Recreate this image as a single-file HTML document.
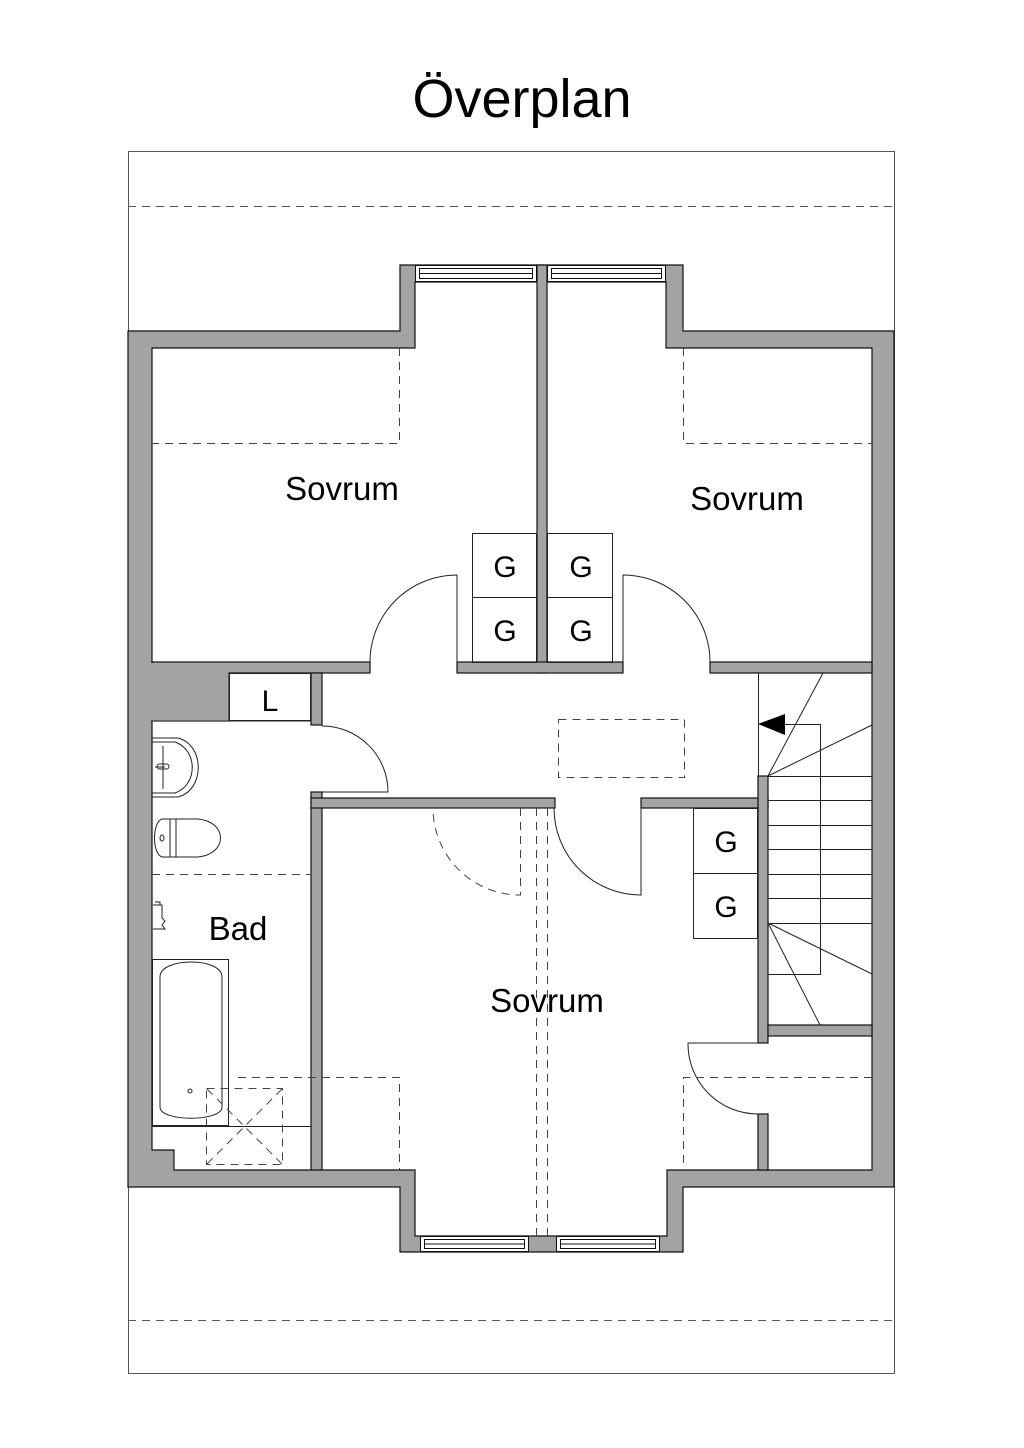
<!DOCTYPE html>
<html><head><meta charset="utf-8"><style>html,body{margin:0;padding:0;background:#fff}svg{display:block}</style></head>
<body>
<svg width="1024" height="1448" viewBox="0 0 1024 1448" xmlns="http://www.w3.org/2000/svg" font-family="Liberation Sans, sans-serif">
<rect width="1024" height="1448" fill="#fff"/>
<text x="522" y="117" font-size="54" text-anchor="middle" fill="#000">Överplan</text>
<rect x="128.5" y="151.5" width="766" height="1222" fill="none" stroke="#555" stroke-width="1"/>
<g stroke="#555" stroke-width="1" stroke-dasharray="8,6">
<line x1="128" y1="206.5" x2="895" y2="206.5"/>
<line x1="128" y1="1320.5" x2="895" y2="1320.5"/>
</g>
<g stroke="#111" stroke-width="1.2">
<polygon points="128,331 400,331 400,265 683,265 683,331 894,331 894,1187 683,1187 683,1252 400,1252 400,1187 128,1187" fill="#a3a3a3"/>
<polygon points="152,348 415,348 415,282 666,282 666,348 872,348 872,1170 667,1170 667,1236 415,1236 415,1170 174,1170 174,1150 152,1150" fill="#fff"/>
<g fill="#a3a3a3">
<rect x="537" y="265" width="10" height="408"/>
<rect x="152" y="662" width="218" height="11"/>
<rect x="457" y="662" width="166" height="11"/>
<rect x="710" y="662" width="162" height="11"/>
<rect x="152" y="673" width="77" height="48"/>
<rect x="311" y="673" width="11" height="52"/>
<rect x="311" y="792" width="11" height="378"/>
<rect x="311" y="798" width="244" height="10"/>
<rect x="641" y="798" width="127" height="10"/>
<rect x="758" y="776" width="10" height="267"/>
<rect x="758" y="1114" width="10" height="56"/>
<rect x="768" y="1025" width="104" height="11"/>
</g>
</g>
<g fill="#a3a3a3">
<rect x="538" y="663" width="8" height="9"/>
<rect x="312" y="799" width="9" height="8"/>
<rect x="759" y="799" width="8" height="8"/>
<rect x="759" y="1026" width="8" height="9"/>
<rect x="129" y="663" width="99.5" height="57.5"/>
</g>
<g stroke="#111" stroke-width="1" fill="#fff">
<rect x="415.5" y="265.5" width="121" height="16"/>
<rect x="419.5" y="268.5" width="113" height="10"/>
<line x1="419" y1="273.5" x2="532" y2="273.5"/>
<rect x="547.5" y="265.5" width="118" height="16"/>
<rect x="551.5" y="268.5" width="110" height="10"/>
<line x1="551" y1="273.5" x2="662" y2="273.5"/>
<rect x="420.5" y="1236.5" width="108" height="15"/>
<rect x="424.5" y="1239.5" width="100" height="9"/>
<line x1="424" y1="1244" x2="525" y2="1244"/>
<rect x="556.5" y="1236.5" width="103" height="15"/>
<rect x="560.5" y="1239.5" width="95" height="9"/>
<line x1="560" y1="1244" x2="656" y2="1244"/>
</g>
<g stroke="#222" stroke-width="1" fill="none">
<rect x="472.5" y="533.5" width="64" height="64"/>
<rect x="472.5" y="597.5" width="64" height="65"/>
<rect x="547.5" y="533.5" width="65" height="64"/>
<rect x="547.5" y="597.5" width="65" height="65"/>
<rect x="693.5" y="808.5" width="64" height="65"/>
<rect x="693.5" y="873.5" width="64" height="65"/>
<rect x="229.5" y="673.5" width="81" height="47" fill="#fff"/>
<line x1="152" y1="721" x2="311" y2="721"/>
<path d="M370,662 A87,87 0 0 1 457,575 L457,662"/>
<path d="M623,662 L623,575 A87,87 0 0 1 710,662"/>
<path d="M322,726 A66,66 0 0 1 388,792 L322,792"/>
<path d="M554,808 A87,87 0 0 0 641,895 L641,808"/>
<path d="M758,1043 L688,1043 A70,70 0 0 0 758,1114"/>
<line x1="758.5" y1="673" x2="758.5" y2="776"/>
<line x1="768" y1="776" x2="823" y2="673"/>
<line x1="768" y1="776" x2="872" y2="725"/>
<line x1="768" y1="776.5" x2="872" y2="776.5"/>
<line x1="768" y1="800.5" x2="872" y2="800.5"/>
<line x1="768" y1="825.5" x2="872" y2="825.5"/>
<line x1="768" y1="849.5" x2="872" y2="849.5"/>
<line x1="768" y1="874.5" x2="872" y2="874.5"/>
<line x1="768" y1="898.5" x2="872" y2="898.5"/>
<line x1="768" y1="923.5" x2="872" y2="923.5"/>
<line x1="768" y1="923" x2="872" y2="974"/>
<line x1="768" y1="923" x2="820" y2="1025"/>
<path d="M785,724.5 L820.5,724.5 L820.5,974.5 L768,974.5"/>
<path d="M152,738 L178,738 C205,745 205,790 178,797 L152,797"/>
<path d="M152,742 L175,742 C198,750 198,785 175,793 L152,793" />
<path d="M163,746 L163,789 M155,767 L165,767"/>
<rect x="157" y="764" width="12" height="5" rx="2.5"/>
<path d="M162,819 C152,822 152,854 162,857 L170,857 L170,819 Z"/>
<path d="M170,819 L176,819 L176,857 L170,857"/>
<path d="M176,819 L198,819 C228,822 228,854 198,857 L176,857"/>
<ellipse cx="162" cy="838" rx="2" ry="3"/>
<path d="M153,905 L162,905 L162,918 L165,921 L162,925 L165,929 L153,929 M155,902 L160,902 L160,905"/>
<rect x="152.5" y="959.5" width="76" height="166"/>
<path d="M160,1110 L160,980 C160,960 222,960 222,980 L222,1110 C222,1125 160,1125 160,1110 Z" transform="translate(0,-3)"/>
<circle cx="190" cy="1091" r="2"/>
<line x1="152" y1="1126.5" x2="311" y2="1126.5"/>
</g>
<polygon points="758,724 785,714 785,735" fill="#000"/>
<g stroke="#444" stroke-width="1" fill="none" stroke-dasharray="8,6">
<path d="M399.5,348 L399.5,443.5 L152,443.5"/>
<path d="M683.5,348 L683.5,443.5 L872,443.5"/>
<rect x="558.5" y="719.5" width="126" height="58"/>
<line x1="152" y1="874.5" x2="311" y2="874.5"/>
<path d="M238,1077.5 L399.5,1077.5 L399.5,1170"/>
<path d="M872,1077.5 L683.5,1077.5 L683.5,1170"/>
<rect x="206.5" y="1088.5" width="76" height="76"/>
<line x1="207" y1="1089" x2="282" y2="1164"/>
<line x1="282" y1="1089" x2="207" y2="1164"/>
<path d="M520.5,808 L520.5,895 A87,87 0 0 1 433,808"/>
<line x1="536.5" y1="808" x2="536.5" y2="1236"/>
<line x1="547.5" y1="808" x2="547.5" y2="1236"/>
</g>
<g fill="#000" text-anchor="middle" font-size="33">
<text x="342" y="500">Sovrum</text>
<text x="747" y="510">Sovrum</text>
<text x="547" y="1012">Sovrum</text>
<text x="238" y="940">Bad</text>
<text x="270" y="711" font-size="30">L</text>
<g font-size="30">
<text x="505" y="577">G</text><text x="505" y="641">G</text>
<text x="581" y="577">G</text><text x="581" y="641">G</text>
<text x="726" y="852">G</text><text x="726" y="917">G</text>
</g>
</g>
</svg>
</body></html>
